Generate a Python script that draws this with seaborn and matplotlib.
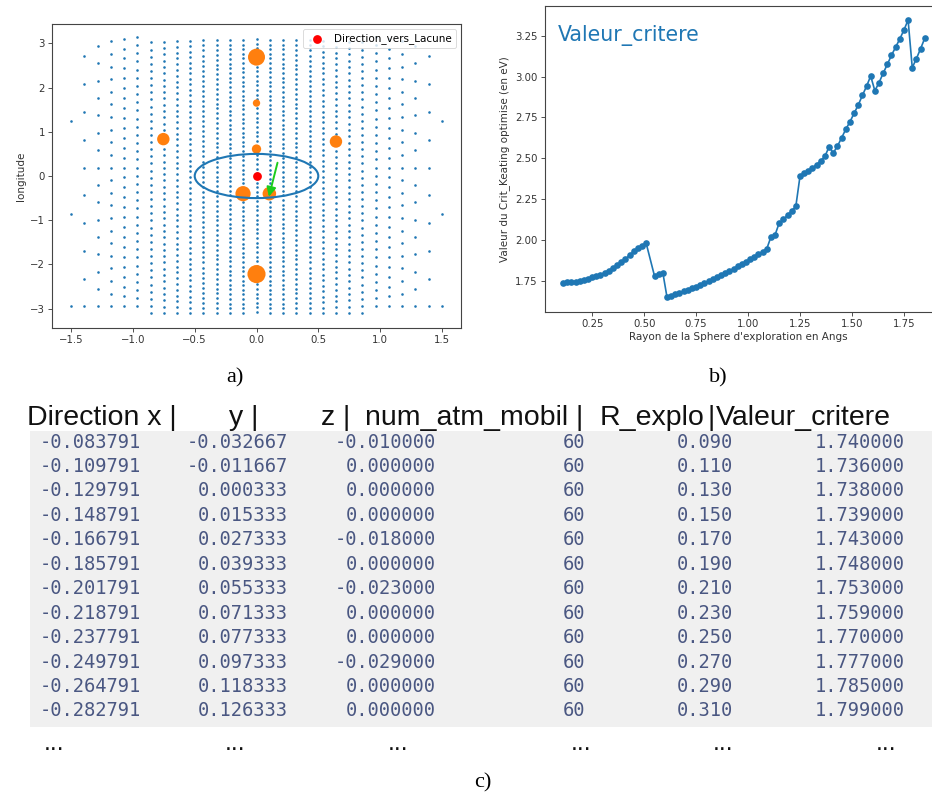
import numpy as np
import pandas as pd
import matplotlib
matplotlib.use("Agg")
import matplotlib.pyplot as plt
import seaborn as sns
from matplotlib.patches import Ellipse, Rectangle

# ---------------- data: panel a (sampling grid on the sphere) ----------------
col_x = [-1.5, -1.393, -1.286, -1.179, -1.071, -0.964, -0.857, -0.75, -0.643, -0.536,
         -0.429, -0.321, -0.214, -0.107, 0.0, 0.107, 0.214, 0.321, 0.429, 0.536,
         0.643, 0.75, 0.857, 0.964, 1.071, 1.179, 1.286, 1.393, 1.5]
col_n = [3, 10, 16, 22, 28, 34, 39, 44, 48, 51, 55, 57, 59, 60, 60,
         60, 59, 57, 55, 51, 48, 44, 39, 34, 28, 22, 16, 10, 3]
col_start = [-2.95, -2.95, -2.95, -2.95, -2.95, -2.95, -3.10, -3.10, -3.10, -3.10,
             -3.10, -3.10, -3.10, -3.10, -3.08, -3.10, -3.10, -3.10, -3.10, -3.10,
             -3.10, -3.10, -3.10, -2.95, -2.95, -2.95, -2.95, -2.95, -2.95]

atoms_lat = [0.0, 0.0, -0.754, 0.643, 0.0, -0.109, 0.104, 0.0]
atoms_lon = [2.69, 1.65, 0.835, 0.78, 0.61, -0.40, -0.40, -2.22]
atoms_size = [150, 28, 80, 80, 45, 120, 95, 170]

lacune_lat = [0.0]
lacune_lon = [0.0]

# ---------------- data: panel b ----------------
r_b = [0.11, 0.13, 0.15, 0.17, 0.19, 0.21, 0.23, 0.25, 0.27, 0.29, 0.31,
       0.33, 0.35, 0.37, 0.39, 0.41, 0.43, 0.45, 0.47, 0.49, 0.51,
       0.55, 0.57, 0.59,
       0.61, 0.63, 0.65, 0.67, 0.69, 0.71, 0.73, 0.75, 0.77, 0.79, 0.81, 0.83,
       0.85, 0.87, 0.89, 0.91, 0.93, 0.95, 0.97, 0.99, 1.01, 1.03, 1.05, 1.07, 1.09,
       1.11, 1.13, 1.15, 1.17, 1.19, 1.21, 1.23, 1.25, 1.27, 1.29, 1.31, 1.33,
       1.35, 1.37, 1.39, 1.41, 1.43, 1.45, 1.47, 1.49, 1.51, 1.53, 1.55, 1.57,
       1.59, 1.61, 1.63, 1.65, 1.67, 1.69, 1.71, 1.73, 1.75, 1.77, 1.79, 1.81,
       1.83, 1.85]
val_b = [1.736, 1.738, 1.739, 1.743, 1.748, 1.753, 1.759, 1.770, 1.777, 1.785, 1.799,
         1.811, 1.826, 1.843, 1.862, 1.882, 1.905, 1.928, 1.948, 1.962, 1.977,
         1.777, 1.791, 1.797,
         1.648, 1.656, 1.665, 1.674, 1.683, 1.693, 1.703, 1.713, 1.724, 1.735, 1.746, 1.758,
         1.770, 1.783, 1.795, 1.809, 1.822, 1.836, 1.850, 1.865, 1.880, 1.895, 1.911, 1.927, 1.944,
         2.017, 2.030, 2.103, 2.124, 2.150, 2.175, 2.206, 2.390, 2.406, 2.422, 2.440, 2.460,
         2.483, 2.512, 2.569, 2.532, 2.573, 2.624, 2.676, 2.722, 2.774, 2.825, 2.884, 2.940,
         3.003, 2.913, 2.962, 3.020, 3.074, 3.130, 3.180, 3.230, 3.285, 3.346, 3.054, 3.110,
         3.170, 3.234]
xticks_b = [0.25, 0.50, 0.75, 1.00, 1.25, 1.50, 1.75]
yticks_b = [1.75, 2.00, 2.25, 2.50, 2.75, 3.00, 3.25]

# ---------------- data: panel c (table) ----------------
header_parts = ["Direction x |", "y |", "z |", "num_atm_mobil |", "R_explo", "|", "Valeur_critere"]
dir_x = [-0.083791, -0.109791, -0.129791, -0.148791, -0.166791, -0.185791,
         -0.201791, -0.218791, -0.237791, -0.249791, -0.264791, -0.282791]
dir_y = [-0.032667, -0.011667, 0.000333, 0.015333, 0.027333, 0.039333,
         0.055333, 0.071333, 0.077333, 0.097333, 0.118333, 0.126333]
dir_z = [-0.010000, 0.000000, 0.000000, 0.000000, -0.018000, 0.000000,
         -0.023000, 0.000000, 0.000000, -0.029000, 0.000000, 0.000000]
num_atm = [60, 60, 60, 60, 60, 60, 60, 60, 60, 60, 60, 60]
r_explo = [0.090, 0.110, 0.130, 0.150, 0.170, 0.190, 0.210, 0.230, 0.250, 0.270, 0.290, 0.310]
val_crit = [1.740, 1.736, 1.738, 1.739, 1.743, 1.748, 1.753, 1.759, 1.770, 1.777, 1.785, 1.799]

# ---------------- figure ----------------
W, H = 932, 799
fig = plt.figure(figsize=(W / 100, H / 100), dpi=100)

BLUE = "#1f77b4"
ORANGE = "#ff7f0e"
SPINE = "#444444"

def style_axes(ax):
    for sp in ax.spines.values():
        sp.set_color(SPINE)
        sp.set_linewidth(0.8)
    ax.tick_params(length=2.6, width=0.6, labelsize=7.3, colors="#333333", pad=2.5)

# background / text layer in pixel coordinates
ax_c = fig.add_axes([0, 0, 1, 1], zorder=-1)
ax_c.set_xlim(0, W)
ax_c.set_ylim(H, 0)
ax_c.axis("off")

# ---------- panel a ----------
gx, gy = [], []
for cx, n, s in zip(col_x, col_n, col_start):
    for k in range(n):
        gx.append(cx)
        gy.append(s + k * 2 * np.pi / n)
grid_df = pd.DataFrame({"lat": gx, "lon": gy})
atoms_df = pd.DataFrame({"lat": atoms_lat, "lon": atoms_lon, "s": atoms_size})

ax_a = fig.add_axes([52 / W, 1 - 328 / H, 409 / W, 304 / H])
sns.scatterplot(data=grid_df, x="lat", y="lon", ax=ax_a, s=3.5, color=BLUE,
                linewidth=0, legend=False)
ax_a.scatter(atoms_df["lat"], atoms_df["lon"], s=atoms_df["s"], color=ORANGE,
             linewidths=0, zorder=3)
sns.scatterplot(x=lacune_lat, y=lacune_lon, ax=ax_a, s=40, color="red",
                linewidth=0, label="Direction_vers_Lacune", zorder=4)
ax_a.add_patch(Ellipse((0, 0), 1.0, 1.0, fill=False, edgecolor=BLUE, lw=1.5, zorder=5))
ax_a.annotate("", xy=(0.10, -0.47), xytext=(0.17, 0.30),
              arrowprops=dict(arrowstyle="-|>", color="#1ccc1c", lw=1.4,
                              mutation_scale=14, shrinkA=0, shrinkB=0), zorder=6)
ax_a.set_xlim(-1.655, 1.655)
ax_a.set_ylim(-3.44, 3.44)
ax_a.set_xticks([-1.5, -1.0, -0.5, 0.0, 0.5, 1.0, 1.5])
ax_a.set_yticks([-3, -2, -1, 0, 1, 2, 3])
ax_a.set_xlabel("")
ax_a.set_ylabel("longitude", fontsize=7.5, color="#333333", labelpad=3)
leg = ax_a.legend(loc="upper right", fontsize=7.5, frameon=True, borderpad=0.4,
                  handletextpad=0.6, borderaxespad=0.5)
leg.get_frame().set_linewidth(0.6)
style_axes(ax_a)

# ---------- panel b ----------
ax_b = fig.add_axes([545 / W, 1 - 312 / H, 387 / W, 306 / H])
df_b = pd.DataFrame({"r": r_b, "v": val_b})
sns.lineplot(data=df_b, x="r", y="v", ax=ax_b, color=BLUE, lw=1.2, marker="o",
             markersize=4.8, markeredgewidth=0, sort=False)
ax_b.set_xlim(0.023, 1.885)
ax_b.set_ylim(1.557, 3.432)
ax_b.set_xticks(xticks_b)
ax_b.set_yticks(yticks_b)
ax_b.set_xticklabels([f"{t:.2f}" for t in xticks_b])
ax_b.set_yticklabels([f"{t:.2f}" for t in yticks_b])
ax_b.set_xlabel("Rayon de la Sphere d'exploration en Angs", fontsize=7.5, color="#333333", labelpad=2)
ax_b.set_ylabel("Valeur du Crit_Keating optimise (en eV)", fontsize=7.5, color="#333333", labelpad=4)
ax_b.text(0.034, 0.902, "Valeur_critere", transform=ax_b.transAxes, color=BLUE,
          fontsize=14.8, va="center", ha="left")
style_axes(ax_b)
ax_b.spines["right"].set_visible(False)

# ---------- sub-figure labels ----------
serif = ["Liberation Serif", "DejaVu Serif"]
ax_c.text(235, 378, "a)", fontsize=16, family=serif, ha="center", va="center")
ax_c.text(718, 378, "b)", fontsize=16, family=serif, ha="center", va="center")
ax_c.text(483, 783, "c)", fontsize=16, family=serif, ha="center", va="center")

# ---------- panel c : table ----------
ax_c.add_patch(Rectangle((30, 431), W - 30, 296, color="#f0f0f0", lw=0, zorder=0))
sans = ["Liberation Sans", "DejaVu Sans"]
header_x = [27, 229, 321, 365, 600, 708, 716]
for hx, part in zip(header_x, header_parts):
    ax_c.text(hx, 425, part, fontsize=20.5, family=sans, ha="left", va="baseline",
              color="#111111", zorder=2)

col_right = [141, 288, 436, 585, 733, 905]
mono = ["DejaVu Sans Mono"]
TXT = "#4a5782"
row_y0, row_dy = 442, 24.45
for r in range(len(dir_x)):
    yy = row_y0 + r * row_dy
    cells = [f"{dir_x[r]:.6f}", f"{dir_y[r]:.6f}", f"{dir_z[r]:.6f}",
             f"{num_atm[r]:d}", f"{r_explo[r]:.3f}", f"{val_crit[r]:.6f}"]
    for xr, c in zip(col_right, cells):
        ax_c.text(xr, yy, c, fontsize=13.5, family=mono, ha="right", va="center",
                  color=TXT, zorder=2)

dots_x = [54, 235, 398, 581, 723, 886]
for dx in dots_x:
    ax_c.text(dx, 743, "...", fontsize=18, family=sans, ha="center", va="center",
              color="#111111", zorder=2)

fig.savefig("out.png", dpi=100)
